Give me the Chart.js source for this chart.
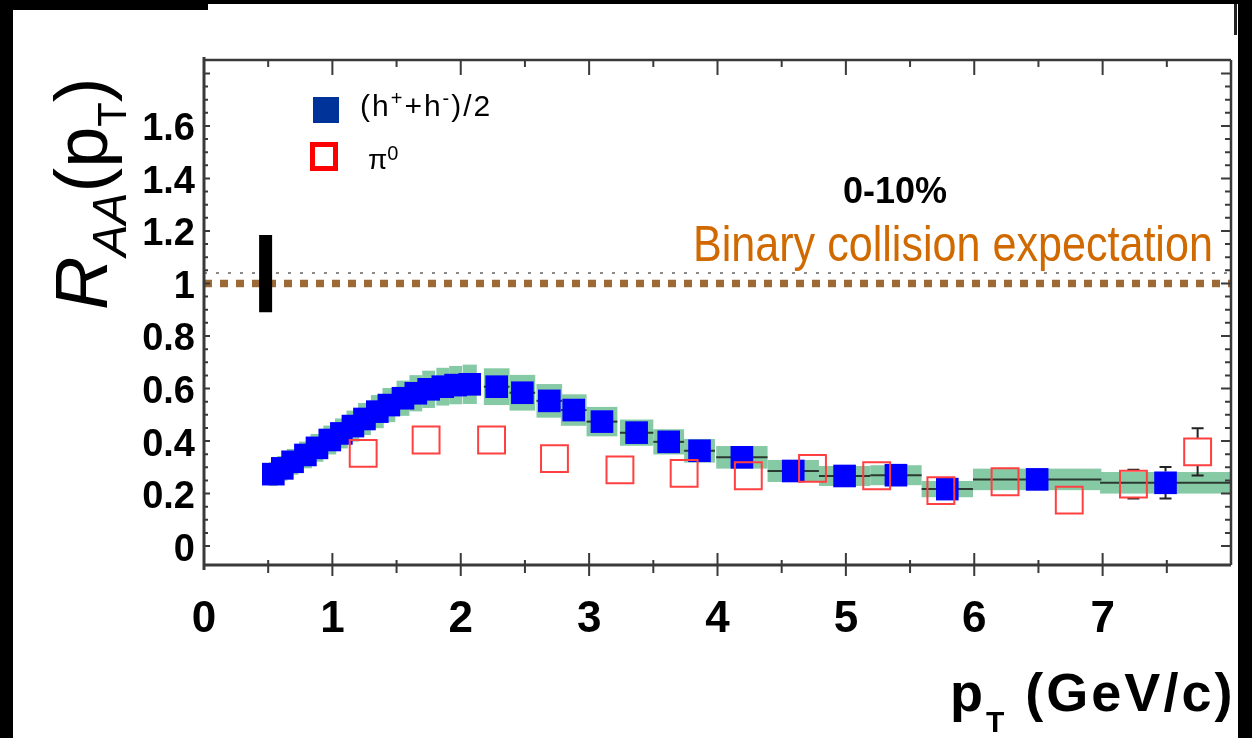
<!DOCTYPE html>
<html>
<head>
<meta charset="utf-8">
<script src="https://cdn.jsdelivr.net/npm/chart.js@4.4.1/dist/chart.umd.min.js"></script>
<style>
  html, body { margin: 0; padding: 0; background: #000; width: 1252px; height: 738px; overflow: hidden; }
  body { font-family: "Liberation Sans", Arial, Helvetica, sans-serif; }
  .panel { position: absolute; background: #fff; }
  #chart { position: absolute; left: 0; top: 0; }
  .txt { position: absolute; white-space: nowrap; color: #000; line-height: 1; }
  .sh { position: relative; line-height: 0; }
</style>
</head>
<body>
<div class="panel" style="left:13px;top:10px;width:1225px;height:728px"></div>
<div class="panel" style="left:208px;top:4px;width:1030px;height:8px"></div>
<div style="position:absolute;left:1234px;top:4px;width:3px;height:31px;background:#222"></div>

<canvas id="chart" width="1252" height="738"></canvas>

<!-- titre axe Y : R_AA(p_T) -->
<div class="txt" style="left:45px;top:310px;font-size:74px;line-height:74px;transform-origin:0 0;transform:rotate(-90deg)"><i>R</i><i class="sh" style="font-size:48px;top:19px">AA</i>(p<span class="sh" style="font-size:40px;top:19px">T</span>)</div>

<!-- titre axe X : p_T (GeV/c) -->
<div class="txt" style="left:950px;top:665px;font-size:54px;font-weight:bold">p<span class="sh" style="font-size:30px;top:21px;margin-left:3px">T</span> <span style="letter-spacing:3px;margin-left:6px">(GeV/c)</span></div>

<!-- légende -->
<div style="position:absolute;left:313px;top:97px;width:26px;height:26px;background:#003399"></div>
<div class="txt" style="left:360px;top:91px;font-size:30px;letter-spacing:2px">(h<span class="sh" style="font-size:20px;top:-11px">+</span>+h<span class="sh" style="font-size:20px;top:-11px">-</span>)/2</div>
<div style="position:absolute;left:310px;top:142px;width:28px;height:29px;box-sizing:border-box;border:5px solid #ff0000;background:#fff"></div>
<div class="txt" style="left:368px;top:146px;font-size:28px">π<span class="sh" style="font-size:20px;top:-9px">0</span></div>

<!-- annotations -->
<div class="txt" style="left:843px;top:173px;font-size:36px;font-weight:bold">0-10%</div>
<div class="txt" style="left:693px;top:219px;font-size:50px;color:#d06a00;transform-origin:0 0;transform:scaleX(0.862)">Binary collision expectation</div>

<script>
// === DONNÉES : (h+ + h-)/2 ===
const hX    = [0.54, 0.61, 0.69, 0.79, 0.88, 0.98, 1.07, 1.16, 1.25, 1.35, 1.44, 1.55, 1.65, 1.75, 1.86, 1.96, 2.07,
               2.28, 2.48, 2.69, 2.88, 3.10, 3.37, 3.62, 3.86, 4.19, 4.59, 4.99, 5.39, 5.79, 6.49, 7.49];
const hY    = [0.274, 0.296, 0.321, 0.347, 0.374, 0.404, 0.429, 0.457, 0.484, 0.512, 0.537, 0.563, 0.582, 0.597, 0.607, 0.613, 0.616,
               0.607, 0.584, 0.553, 0.518, 0.474, 0.432, 0.397, 0.363, 0.338, 0.286, 0.267, 0.270, 0.217, 0.254, 0.241];
const hXErr = [0.035, 0.04, 0.045, 0.05, 0.05, 0.05, 0.05, 0.05, 0.05, 0.05, 0.05, 0.05, 0.05, 0.05, 0.05, 0.05, 0.055,
               0.1, 0.1, 0.1, 0.1, 0.12, 0.13, 0.12, 0.12, 0.2, 0.2, 0.2, 0.2, 0.2, 0.5, 0.51];
const hSys  = [0.045, 0.047, 0.049, 0.051, 0.053, 0.055, 0.057, 0.059, 0.061, 0.063, 0.065, 0.067, 0.069, 0.071, 0.072, 0.073, 0.075,
               0.070, 0.068, 0.064, 0.060, 0.056, 0.050, 0.048, 0.045, 0.043, 0.042, 0.038, 0.038, 0.031, 0.041, 0.041];
const hErr  = [0, 0, 0, 0, 0, 0, 0, 0, 0, 0, 0, 0, 0, 0, 0, 0, 0,
               0, 0, 0, 0, 0, 0, 0, 0, 0, 0, 0, 0, 0, 0, 0.06];

// === DONNÉES : pi0 ===
const pi0X   = [1.24, 1.73, 2.24, 2.73, 3.24, 3.74, 4.24, 4.74, 5.24, 5.74, 6.24, 6.74, 7.24, 7.74];
const pi0Y   = [0.353, 0.404, 0.404, 0.333, 0.290, 0.277, 0.268, 0.296, 0.268, 0.211, 0.245, 0.175, 0.236, 0.359];
const pi0Err = [0, 0, 0, 0, 0, 0, 0, 0, 0, 0, 0, 0, 0.055, 0.09];

// === LIGNES DE RÉFÉRENCE ===
const refX    = [0, 8];
const binaryY = 1.0;
const dottedY = 1.04;
const normX   = 0.48;
const normBox = [0.89, 1.185];

// === AXES ===
const xTicks = [0, 1, 2, 3, 4, 5, 6, 7];
const yTicks = [0, 0.2, 0.4, 0.6, 0.8, 1, 1.2, 1.4, 1.6];

const BAND_COLOR = "#86c9a5";
const H_COLOR = "#0000ff";
const PI0_COLOR = "#ff4040";
const H_RADIUS = 16;
const PI0_RADIUS = 19;

// === PLUGIN : bandes systématiques, barres d'erreur, cadre ===
const physPlugin = {
  id: "physPlugin",
  beforeDatasetsDraw(chart) {
    const { ctx, chartArea: a, scales: { x, y } } = chart;
    ctx.save();
    ctx.beginPath();
    ctx.rect(a.left, a.top, a.right - a.left, a.bottom - a.top);
    ctx.clip();

    // bandes
    ctx.fillStyle = BAND_COLOR;
    hX.forEach((v, i) => {
      const x0 = x.getPixelForValue(v - hXErr[i]);
      const x1 = x.getPixelForValue(v + hXErr[i]);
      const y0 = y.getPixelForValue(hY[i] + hSys[i]);
      const y1 = y.getPixelForValue(hY[i] - hSys[i]);
      ctx.fillRect(x0, y0, x1 - x0, y1 - y0);
    });

    // traits horizontaux (largeur de bin)
    ctx.strokeStyle = "#2a3a30";
    ctx.lineWidth = 2;
    hX.forEach((v, i) => {
      const py = y.getPixelForValue(hY[i]);
      ctx.beginPath();
      ctx.moveTo(x.getPixelForValue(v - hXErr[i]), py);
      ctx.lineTo(x.getPixelForValue(v + hXErr[i]), py);
      ctx.stroke();
    });

    // barres d'erreur verticales (hors du marqueur)
    const drawErr = (xs, ys, es, half) => {
      ctx.strokeStyle = "#222";
      ctx.lineWidth = 2;
      xs.forEach((v, i) => {
        if (!es[i]) return;
        const px = x.getPixelForValue(v);
        const pc = y.getPixelForValue(ys[i]);
        const pt = y.getPixelForValue(ys[i] + es[i]);
        const pb = y.getPixelForValue(ys[i] - es[i]);
        ctx.beginPath();
        ctx.moveTo(px, pt); ctx.lineTo(px, pc - half);
        ctx.moveTo(px, pc + half); ctx.lineTo(px, pb);
        ctx.moveTo(px - 6, pt); ctx.lineTo(px + 6, pt);
        ctx.moveTo(px - 6, pb); ctx.lineTo(px + 6, pb);
        ctx.stroke();
      });
    };
    drawErr(hX, hY, hErr, H_RADIUS * Math.SQRT1_2);
    drawErr(pi0X, pi0Y, pi0Err, PI0_RADIUS * Math.SQRT1_2);
    ctx.restore();
  },
  afterDatasetsDraw(chart) {
    const { ctx, chartArea: a, scales: { x, y } } = chart;
    ctx.save();
    ctx.strokeStyle = "#3a3a3a";

    // cadre
    ctx.lineWidth = 3;
    ctx.beginPath();
    ctx.moveTo(a.left, a.top - 3); ctx.lineTo(a.left, a.bottom + 5);
    ctx.moveTo(a.left, a.bottom); ctx.lineTo(a.right, a.bottom);
    ctx.stroke();
    ctx.lineWidth = 2.5;
    ctx.beginPath();
    ctx.moveTo(a.left, a.top); ctx.lineTo(a.right, a.top);
    ctx.moveTo(a.right, a.top); ctx.lineTo(a.right, a.bottom);
    ctx.stroke();

    // graduations en x (haut et bas)
    ctx.lineWidth = 2;
    for (let v = 0.5; v < 8; v += 0.5) {
      const px = x.getPixelForValue(v);
      const major = Number.isInteger(v);
      ctx.beginPath();
      ctx.moveTo(px, a.bottom - (major ? 12 : 5));
      ctx.lineTo(px, a.bottom + (major ? 11 : 8));
      ctx.moveTo(px, a.top);
      ctx.lineTo(px, a.top + (major ? 15 : 7));
      ctx.stroke();
    }

    // graduations en y (gauche et droite)
    for (let k = 0; k <= 36; k++) {
      const v = k * 0.05;
      const py = y.getPixelForValue(v);
      if (py < a.top + 2) continue;
      const major = k % 4 === 0;
      ctx.beginPath();
      ctx.moveTo(a.left, py); ctx.lineTo(a.left + (major ? 6 : 4), py);
      ctx.moveTo(a.right, py); ctx.lineTo(a.right - (major ? 10 : 6), py);
      ctx.stroke();
    }
    ctx.restore();
  },
};

// === GRAPHIQUE ===
const ctx = document.getElementById("chart");
new Chart(ctx, {
  type: "scatter",
  data: {
    datasets: [
      {
        label: "π0",
        data: pi0X.map((v, i) => ({ x: v, y: pi0Y[i] })),
        pointStyle: "rect",
        pointRadius: PI0_RADIUS,
        borderColor: PI0_COLOR,
        borderWidth: 2,
        backgroundColor: "rgba(0,0,0,0)",
        order: 0,
      },
      {
        label: "(h+ + h-)/2",
        data: hX.map((v, i) => ({ x: v, y: hY[i] })),
        pointStyle: "rect",
        pointRadius: H_RADIUS,
        backgroundColor: H_COLOR,
        borderWidth: 0,
        order: 1,
      },
      {
        type: "line",
        label: "norm",
        data: normBox.map((v) => ({ x: normX, y: v })),
        borderColor: "#000",
        borderWidth: 13,
        borderCapStyle: "butt",
        pointRadius: 0,
        order: 2,
      },
      {
        type: "line",
        label: "binary",
        data: refX.map((v) => ({ x: v, y: binaryY })),
        borderColor: "#9c6a36",
        borderWidth: 7.5,
        borderDash: [8, 8],
        borderCapStyle: "butt",
        pointRadius: 0,
        order: 3,
      },
      {
        type: "line",
        label: "dotted",
        data: refX.map((v) => ({ x: v, y: dottedY })),
        borderColor: "#8a8a8a",
        borderWidth: 2,
        borderDash: [3, 9],
        pointRadius: 0,
        order: 4,
      },
    ],
  },
  options: {
    responsive: false,
    animation: false,
    devicePixelRatio: 1,
    layout: { padding: { top: 60, right: 16, left: 0, bottom: 0 } },
    plugins: { legend: { display: false }, tooltip: { enabled: false } },
    scales: {
      x: {
        type: "linear",
        min: 0,
        max: 8,
        afterFit: (s) => { s.height = 173; },
        afterBuildTicks: (s) => { s.ticks = xTicks.map((v) => ({ value: v })); },
        grid: { display: false, drawTicks: false },
        border: { display: false },
        ticks: {
          font: { family: "Liberation Sans", size: 44, weight: "bold" },
          color: "#000",
          padding: 28,
          maxRotation: 0,
          autoSkip: false,
        },
      },
      y: {
        type: "linear",
        min: -0.072,
        max: 1.851,
        afterFit: (s) => { s.width = 204; },
        afterBuildTicks: (s) => { s.ticks = yTicks.map((v) => ({ value: v })); },
        grid: { display: false, drawTicks: false },
        border: { display: false },
        ticks: {
          font: { family: "Liberation Sans", size: 38, weight: "bold" },
          color: "#000",
          padding: 9,
          labelOffset: 4,
          callback: (v) => String(+v.toFixed(1)),
        },
      },
    },
  },
  plugins: [physPlugin],
});
</script>
</body>
</html>
